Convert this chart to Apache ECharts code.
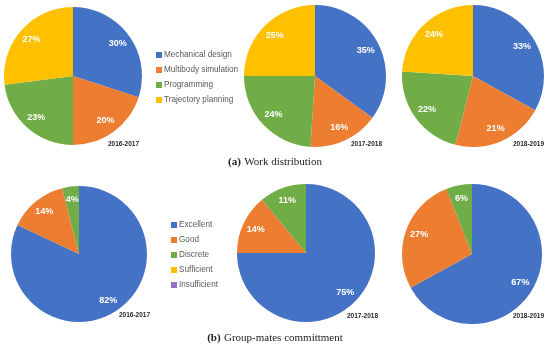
<!DOCTYPE html>
<html>
<head>
<meta charset="utf-8">
<script src="https://cdn.jsdelivr.net/npm/echarts@6/dist/echarts.min.js"></script>
<style>html,body{margin:0;padding:0;background:#fff;}#c{width:550px;height:349px;}</style>
</head>
<body>
<div id="c"></div>
<script>
// ---- data ----
const workCategories = ['Mechanical design', 'Multibody simulation', 'Programming', 'Trajectory planning'];
const work2016 = [30, 20, 23, 27];
const work2017 = [35, 16, 24, 25];
const work2018 = [33, 21, 22, 24];

const commitCategories = ['Excellent', 'Good', 'Discrete', 'Sufficient', 'Insufficient'];
const commit2016 = [82, 14, 4, 0, 0];
const commit2017 = [75, 14, 11, 0, 0];
const commit2018 = [67, 27, 6, 0, 0];

const yearLabels = ['2016-2017', '2017-2018', '2018-2019'];
const captionA = 'Work distribution';
const captionB = 'Group-mates committment';

// ---- styling ----
const colors = ['#4472C4', '#ED7D31', '#70AD47', '#FFC000', '#9771C2'];

const pies = [
  {cats: workCategories, vals: work2016, c: [73, 76], r: 69, year: yearLabels[0], yx: 124, yy: 145},
  {cats: workCategories, vals: work2017, c: [315, 76], r: 71, year: yearLabels[1], yx: 367, yy: 145},
  {cats: workCategories, vals: work2018, c: [473, 76], r: 71, year: yearLabels[2], yx: 529, yy: 145},
  {cats: commitCategories, vals: commit2016, c: [79, 254], r: 68, year: yearLabels[0], yx: 135, yy: 316},
  {cats: commitCategories, vals: commit2017, c: [306, 253], r: 69, year: yearLabels[1], yx: 363, yy: 317},
  {cats: commitCategories, vals: commit2018, c: [472, 254], r: 70, year: yearLabels[2], yx: 529, yy: 317}
];

const series = [];
const graphics = [];
pies.forEach((p, i) => {
  const data = p.cats.map((n, k) => ({name: n, value: p.vals[k], itemStyle: {color: colors[k]}}));
  series.push({
    type: 'pie', name: 'pie' + i, center: p.c, radius: [0, p.r],
    startAngle: 90, clockwise: true, silent: true, animation: false,
    label: {show: false}, labelLine: {show: false},
    itemStyle: {borderWidth: 0},
    data: data
  });
  series.push({
    type: 'pie', name: 'lab' + i, center: p.c, radius: [p.r * 0.52, p.r],
    startAngle: 90, clockwise: true, silent: true, animation: false,
    itemStyle: {color: 'rgba(0,0,0,0)', borderWidth: 0},
    labelLine: {show: false},
    label: {
      show: true, position: 'inside', color: '#fff', fontSize: 9, fontWeight: 'bold',
      fontFamily: 'Liberation Sans',
      formatter: (prm) => prm.value > 0 ? prm.value + '%' : ''
    },
    data: p.cats.map((n, k) => ({name: n, value: p.vals[k]}))
  });
  graphics.push({
    type: 'text', left: p.yx - 16, top: p.yy - 4,
    style: {text: p.year, fontSize: 6.5, fontWeight: 'bold', fill: '#262626', fontFamily: 'Liberation Sans'}
  });
});

graphics.push({
  type: 'text', left: 'center', top: 156,
  style: {
    text: '{b|(a)} {n|' + captionA + '}',
    rich: {
      b: {fontFamily: 'Liberation Serif', fontSize: 11, fontWeight: 'bold', fill: '#222'},
      n: {fontFamily: 'Liberation Serif', fontSize: 11, fill: '#222'}
    }
  }
});
graphics.push({
  type: 'text', left: 'center', top: 332,
  style: {
    text: '{b|(b)} {n|' + captionB + '}',
    rich: {
      b: {fontFamily: 'Liberation Serif', fontSize: 11, fontWeight: 'bold', fill: '#222'},
      n: {fontFamily: 'Liberation Serif', fontSize: 11, fill: '#222'}
    }
  }
});

const legendText = {fontSize: 8.2, color: '#595959', fontFamily: 'Liberation Sans', padding: [0, 0, 0, -3]};
const chart = echarts.init(document.getElementById('c'), null, {renderer: 'canvas'});
chart.setOption({
  backgroundColor: '#fff',
  animation: false,
  legend: [
    {
      data: workCategories, orient: 'vertical', left: 151, top: 46,
      icon: 'rect', itemWidth: 6, itemHeight: 6, itemGap: 7,
      textStyle: legendText, selectedMode: false
    },
    {
      data: commitCategories, orient: 'vertical', left: 166, top: 216,
      icon: 'rect', itemWidth: 6, itemHeight: 6, itemGap: 7,
      textStyle: legendText, selectedMode: false
    }
  ],
  series: series,
  graphic: graphics
});
</script>
</body>
</html>
